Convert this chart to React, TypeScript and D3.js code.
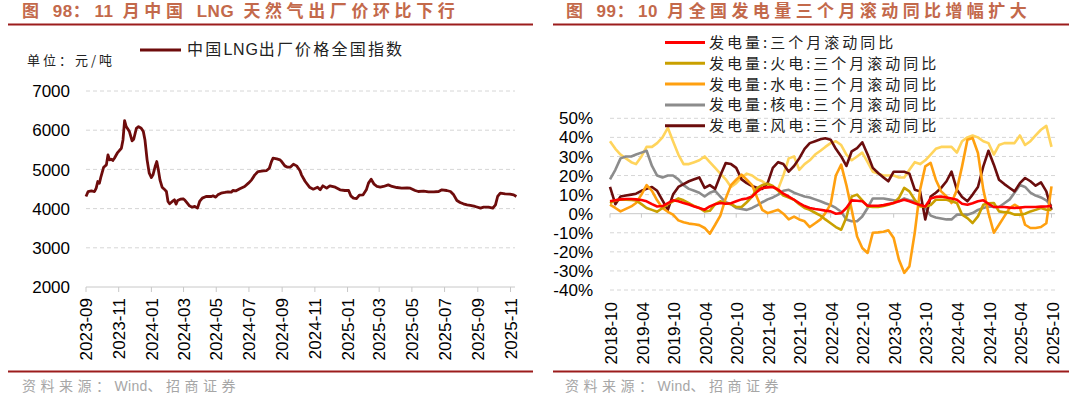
import { useEffect, useRef } from 'react';
import * as d3 from 'd3';

const width = 1080;
const height = 398;

// 图98: LNG ex-factory price index (元/吨)
const lngDates = [
  '2023-09-01', '2023-09-05', '2023-09-11', '2023-09-17', '2023-09-20', '2023-09-23', '2023-09-26', '2023-09-29',
  '2023-10-04', '2023-10-09', '2023-10-12', '2023-10-15', '2023-10-18', '2023-10-21', '2023-10-24', '2023-10-30',
  '2023-11-06', '2023-11-09', '2023-11-12', '2023-11-15', '2023-11-21', '2023-11-26', '2023-11-29', '2023-12-04',
  '2023-12-08', '2023-12-13', '2023-12-17', '2023-12-20', '2023-12-24', '2023-12-28', '2024-01-01', '2024-01-04',
  '2024-01-08', '2024-01-11', '2024-01-14', '2024-01-17', '2024-01-21', '2024-01-25', '2024-01-29', '2024-02-01',
  '2024-02-04', '2024-02-09', '2024-02-13', '2024-02-16', '2024-02-19', '2024-02-24', '2024-02-29', '2024-03-03',
  '2024-03-08', '2024-03-12', '2024-03-17', '2024-03-22', '2024-03-27', '2024-03-31', '2024-04-05', '2024-04-12',
  '2024-04-22', '2024-04-25', '2024-04-30', '2024-05-04', '2024-05-10', '2024-05-17', '2024-05-23', '2024-05-29',
  '2024-06-01', '2024-06-07', '2024-06-14', '2024-06-23', '2024-06-30', '2024-07-06', '2024-07-12', '2024-07-18',
  '2024-07-28', '2024-08-03', '2024-08-08', '2024-08-12', '2024-08-15', '2024-08-22', '2024-08-28', '2024-08-31',
  '2024-09-06', '2024-09-11', '2024-09-16', '2024-09-22', '2024-09-28', '2024-10-04', '2024-10-07', '2024-10-14',
  '2024-10-22', '2024-10-29', '2024-11-06', '2024-11-11', '2024-11-16', '2024-11-23', '2024-11-29', '2024-12-09',
  '2024-12-18', '2024-12-27', '2025-01-03', '2025-01-07', '2025-01-12', '2025-01-18', '2025-01-23', '2025-01-30',
  '2025-02-05', '2025-02-09', '2025-02-14', '2025-02-19', '2025-02-25', '2025-03-03', '2025-03-09', '2025-03-18',
  '2025-03-25', '2025-04-03', '2025-04-12', '2025-04-22', '2025-04-28', '2025-05-07', '2025-05-13', '2025-05-23',
  '2025-06-01', '2025-06-11', '2025-06-20', '2025-06-26', '2025-07-05', '2025-07-12', '2025-07-18', '2025-07-24',
  '2025-07-30', '2025-08-05', '2025-08-12', '2025-08-18', '2025-08-27', '2025-09-06', '2025-09-12', '2025-09-21',
  '2025-09-29', '2025-10-04', '2025-10-08', '2025-10-13', '2025-10-22', '2025-10-31', '2025-11-07', '2025-11-12',
];
const lngValues = [
  4309, 4436, 4453, 4436, 4521, 4691, 4649, 4818,
  5056, 5115, 5370, 5243, 5260, 5226, 5285, 5430,
  5540, 5752, 6245, 6092, 5964, 5727, 5770, 6049,
  6092, 6049, 5964, 5752, 5243, 4903, 4793, 4860,
  5073, 5200, 4988, 4733, 4547, 4496, 4436, 4182,
  4122, 4182, 4224, 4114, 4207, 4241, 4250, 4224,
  4139, 4071, 4037, 4054, 4012, 4182, 4267, 4309,
  4309, 4326, 4292, 4351, 4394, 4411, 4428, 4419,
  4462, 4453, 4504, 4564, 4649, 4733, 4861, 4946,
  4963, 4971, 5030, 5200, 5285, 5268, 5243, 5200,
  5090, 5056, 5056, 5132, 5090, 4971, 4861, 4691,
  4547, 4496, 4547, 4479, 4581, 4521, 4581, 4547,
  4479, 4462, 4462, 4326, 4267, 4258, 4343, 4351,
  4479, 4649, 4750, 4632, 4564, 4547, 4564, 4606,
  4564, 4538, 4521, 4530, 4521, 4462, 4436, 4445,
  4428, 4428, 4436, 4479, 4462, 4436, 4351, 4207,
  4156, 4122, 4097, 4080, 4054, 4012, 4037, 4037,
  4012, 4097, 4309, 4394, 4377, 4368, 4351, 4309,
];
const lngTicks = [
  '2023-09', '2023-11', '2024-01', '2024-03', '2024-05', '2024-07', '2024-09',
  '2024-11', '2025-01', '2025-03', '2025-05', '2025-07', '2025-09', '2025-11',
];
const lngYTicks = [2000, 3000, 4000, 5000, 6000, 7000];

// 图99: 3-month rolling YoY of power generation, monthly 2018-10 .. 2025-10 (%)
const powerStart = '2018-10';
const powerEnd = '2025-10';
const totalYoY = [
  6.5, 7, 7.5, 7.7, 7.7, 7.5, 7.2, 6.5, 5, 3.8, 4, 5.5, 7, 6.5, 5.6, 4.8, 3.8, 3, 2.1, 3.8,
  5, 5.6, 5.2, 5.5, 6.5, 7.5, 8, 9, 11.7, 13.5, 13.8, 14, 12.6, 10.5, 9, 7.3, 5.5, 4, 3, 2.5,
  2.1, 1.6, 1.2, 0, 0.3, 3, 7, 6.8, 6.5, 4.2, 4.2, 4.2, 4.5, 5, 5.6, 6.5, 7.3, 6.5, 5.5, 4.5,
  3.8, 8, 8.8, 9, 8.5, 8, 7.3, 5.2, 4.7, 5.5, 6.5, 7, 5.2, 3.5, 3.5, 3.5, 3.2, 3, 3.2, 3.5,
  3.5, 3.5, 3.7, 3.8, 4.2,
];
const thermalYoY = [
  5.5, 7, 7.3, 7.3, 7.2, 7, 5, 3, 2, 1, 3, 5, 6.5, 8, 7, 5.5, 4, 3, 1.2, 1.5,
  5, 6.5, 5.5, 5, 3.5, 3.5, 6, 9, 13.5, 15, 15.7, 14.5, 12, 9.5, 8.5, 7.3, 5, 3, 2, 0.5,
  -1, -3, -5, -7, -8.4, -2, 9, 10, 7, 3.8, 3.5, 3.5, 4, 4.7, 5.6, 8.2, 13.5, 11.7, 7.3, 3.8,
  3.8, 4.5, 7.3, 7.3, 7.3, 6.5, 5.6, -0.5, -2.3, -4.9, -1.4, 4.7, 5.5, 5.6, 1.2, 0.8, 0.5, -0.5, -0.5, 0,
  1.2, 2, 3, 2.1, 2,
];
const hydroYoY = [
  4.7, 3, 1.2, 2.5, 3.8, 5.6, 10, 15, 12, 7, 3, 1, -0.5, -3.5, -4.5, -5.2, -5.5, -6, -7.5, -10.5,
  -5.8, -1, 8, 15, 17.8, 20.5, 17.8, 15, 8, 2, 0.3, 1.2, 2, 0, -3, -1.5, -3, -4, -7, -5,
  -3, 0.3, 5, 20, 25.7, 15, 2, -12, -18, -20.6, -10, -9.8, -9.5, -8.7, -12.8, -24, -31, -27.6, -10, 12.6,
  24.8, 26.6, 17.8, 11.7, 9, 5.6, 12.6, 24.8, 38.8, 39.7, 31.8, 12.6, 0.3, -10, -5.8, -1.4, 3, 4.7, 3, -5.8,
  -7.5, -7.5, -7, -5, 14.3,
];
const nuclearYoY = [
  18, 23, 29, 30, 30, 31, 32, 33, 25, 20, 19, 20, 20, 18, 15, 13, 12, 11, 9, 11,
  12, 9, 6, 5, 3, 2.5, 2, 3, 4.5, 6, 7.5, 8.5, 10, 12, 12.5, 11, 10, 9, 8.5, 7.5,
  6.5, 5.5, 4.5, 3, 1, -3, -4, -4, -1.5, 3, 8, 8, 8, 7.5, 7, 6.5, 8, 7, 6.5, 5,
  3, -1, -2, -2.5, -3, -3, -0.5, -0.5, -0.5, 0.3, 2, 3, 3.8, 3.5, 3.5, 5.5, 7.5, 11, 15, 14,
  11, 9.5, 8.5, 7, 4,
];
const windYoY = [
  14, 5, 9, 9.5, 10, 10.5, 12, 13, 14, 12, 7, 2, 10, 14, 15.5, 17, 18, 19, 13.5, 15,
  13, 20, 26.5, 26, 24, 18, 16, 14.5, 13.5, 13, 16, 24, 27, 26, 22, 25, 29, 34, 37, 38,
  39, 39.5, 38.8, 34, 30, 25, 32.7, 34.4, 37.4, 31, 24, 21.3, 19, 17, 22, 22, 22, 21, 12.6, 11.7,
  -3, 9, 11, 13.5, 17, 22, 12.6, 8.7, 6.5, 10, 14, 24.8, 33, 25.7, 17.8, 15.5, 13.5, 11.7, 16, 18.7,
  17, 14.7, 16.4, 11.7, 2,
];
const solarYoY = [
  38, 34, 31, 29, 27, 26, 30, 35, 35, 37, 40, 45, 38, 31, 26, 26, 27, 28, 30, 27,
  24, 21, 18, 14, 16, 19, 21, 20, 18, 17, 15, 14, 13, 20, 29, 30, 23, 26, 28, 31,
  33, 35, 37, 38, 36, 31, 28, 30, 32, 27, 22, 21, 20, 20, 20, 19, 19, 23, 27, 26,
  28, 31, 34, 35, 35, 35, 32, 38, 40, 41, 40, 38, 37, 31, 36, 37, 37, 37, 41, 36,
  38, 41, 44, 46, 35,
];
const powerTicks = [
  '2018-10', '2019-04', '2019-10', '2020-04', '2020-10', '2021-04', '2021-10', '2022-04',
  '2022-10', '2023-04', '2023-10', '2024-04', '2024-10', '2025-04', '2025-10',
];
const pctTicks = [50, 40, 30, 20, 10, 0, -10, -20, -30, -40];

const seriesNames = [
  '发电量:三个月滚动同比',
  '发电量:火电:三个月滚动同比',
  '发电量:水电:三个月滚动同比',
  '发电量:核电:三个月滚动同比',
  '发电量:风电:三个月滚动同比',
];

const latin = '"Liberation Sans", Arial, sans-serif';
const cjk = '"Noto Sans CJK SC", sans-serif';
const mixed = '"Liberation Sans", "Noto Sans CJK SC", sans-serif';
const titleColor = '#c3694b';
const ruleColor = '#9c1c1c';
const gridColor = '#d6d6d6';
const axisColor = '#c8c8c8';

const cjkRun = /[\u3000-\u9fff\uff00-\uffef]+|[^\u3000-\u9fff\uff00-\uffef]+/g;
const isCjk = (s: string) => /[\u3000-\u9fff\uff00-\uffef]/.test(s);

// wide spacing between CJK glyphs, tight spacing inside latin words
const addRuns = (text: any, str: string, cjkLs: number, latinLs: number, space = '\u00a0') => {
  (str.match(cjkRun) || []).forEach(run => {
    text.append('tspan')
      .style('letter-spacing', (isCjk(run) ? cjkLs : latinLs) + 'px')
      .text(run.replace(/ /g, space));
  });
};

const App = () => {
  const svgRef = useRef<SVGSVGElement | null>(null);

  useEffect(() => {
    const svg = d3.select(svgRef.current);
    svg.selectAll('*').remove();

    const parseDay = d3.timeParse('%Y-%m-%d');
    const parseMonth = d3.timeParse('%Y-%m');

    // ---------- panel frame: titles, rules, sources ----------
    const frames = [
      { title: '图 98：11 月中国 LNG 天然气出厂价环比下行', tx: 22, ls: 4.6, x0: 8, x1: 533, sx: 22 },
      { title: '图 99：10 月全国发电量三个月滚动同比增幅扩大', tx: 566, ls: 4.4, x0: 553, x1: 1069, sx: 565 },
    ];
    frames.forEach(f => {
      const t = svg.append('text')
        .attr('x', f.tx)
        .attr('y', 16.5)
        .attr('fill', titleColor)
        .style('font-family', mixed)
        .style('font-weight', 'bold')
        .style('font-size', '17px');
      addRuns(t, f.title, f.ls, 0.6, '\u2002');
      svg.append('line')
        .attr('x1', f.x0).attr('x2', f.x1)
        .attr('y1', 24.5).attr('y2', 24.5)
        .attr('stroke', ruleColor).attr('stroke-width', 2);
      svg.append('line')
        .attr('x1', f.x0).attr('x2', f.x1)
        .attr('y1', 371.5).attr('y2', 371.5)
        .attr('stroke', ruleColor).attr('stroke-width', 2);
      const s = svg.append('text')
        .attr('x', f.sx)
        .attr('y', 386)
        .attr('dy', '0.35em')
        .attr('fill', '#a6a6a6')
        .style('font-family', mixed)
        .style('font-size', '14px');
      addRuns(s, '资料来源：Wind、招商证券', 4.5, 0.3);
    });

    // ---------- left: LNG ----------
    const lngData = lngDates.map((d, i) => ({ date: parseDay(d) as Date, value: lngValues[i] }));
    const xL = d3.scaleTime()
      .domain([parseMonth('2023-09') as Date, parseMonth('2025-11') as Date])
      .range([86, 510.5]);
    const yL = d3.scaleLinear().domain([2000, 7000]).range([287, 91]);
    const gL = svg.append('g');

    gL.selectAll('line.grid')
      .data(lngYTicks.filter(v => v !== 2000))
      .join('line')
      .attr('class', 'grid')
      .attr('x1', 86).attr('x2', 515)
      .attr('y1', d => yL(d)).attr('y2', d => yL(d))
      .attr('stroke', gridColor)
      .attr('stroke-dasharray', '4,3');

    gL.selectAll('text.ylab')
      .data(lngYTicks)
      .join('text')
      .attr('class', 'ylab')
      .attr('x', 70)
      .attr('y', d => yL(d))
      .attr('dy', '0.36em')
      .attr('text-anchor', 'end')
      .style('font-family', latin)
      .style('font-size', '17px')
      .text(d => d);

    gL.append('line')
      .attr('x1', 86).attr('x2', 515)
      .attr('y1', yL(2000)).attr('y2', yL(2000))
      .attr('stroke', axisColor);

    const lngTickDates = lngTicks.map(t => parseMonth(t) as Date);
    gL.selectAll('line.tick')
      .data(lngTickDates)
      .join('line')
      .attr('class', 'tick')
      .attr('x1', d => xL(d)).attr('x2', d => xL(d))
      .attr('y1', yL(2000)).attr('y2', yL(2000) + 5)
      .attr('stroke', axisColor);

    gL.selectAll('text.xlab')
      .data(lngTickDates)
      .join('text')
      .attr('class', 'xlab')
      .attr('transform', d => `translate(${xL(d)},298) rotate(-90)`)
      .attr('dy', '0.36em')
      .attr('text-anchor', 'end')
      .style('font-family', latin)
      .style('font-size', '17px')
      .text(d => d3.timeFormat('%Y-%m')(d));

    const lineL = d3.line<{ date: Date; value: number }>()
      .x(d => xL(d.date))
      .y(d => yL(d.value));
    gL.append('path')
      .datum(lngData)
      .attr('d', lineL)
      .attr('fill', 'none')
      .attr('stroke', '#6e0c0c')
      .attr('stroke-width', 2.8)
      .attr('stroke-linejoin', 'round');

    // legend + unit
    gL.append('line')
      .attr('x1', 140).attr('x2', 181)
      .attr('y1', 50).attr('y2', 50)
      .attr('stroke', '#6e0c0c').attr('stroke-width', 3);
    const lt = gL.append('text')
      .attr('x', 187).attr('y', 49.5).attr('dy', '0.36em')
      .style('font-family', mixed)
      .style('font-size', '16px')
      .attr('fill', '#222');
    addRuns(lt, '中国LNG出厂价格全国指数', 2.2, 0.8);
    gL.append('text')
      .attr('x', 27).attr('y', 60).attr('dy', '0.36em')
      .style('font-family', cjk)
      .style('font-size', '13px')
      .style('letter-spacing', '3px')
      .attr('fill', '#222')
      .text('单位：元/吨');

    // ---------- right: power generation ----------
    const months = d3.timeMonth.range(
      parseMonth(powerStart) as Date,
      d3.timeMonth.offset(parseMonth(powerEnd) as Date, 1),
    );
    const xR = d3.scaleTime()
      .domain([parseMonth(powerStart) as Date, parseMonth(powerEnd) as Date])
      .range([610, 1051.5]);
    const yR = d3.scaleLinear().domain([-40, 50]).range([290, 118.3]);
    const gR = svg.append('g');

    gR.selectAll('line.grid')
      .data(pctTicks.filter(v => v !== 0))
      .join('line')
      .attr('class', 'grid')
      .attr('x1', 610).attr('x2', 1055)
      .attr('y1', d => yR(d)).attr('y2', d => yR(d))
      .attr('stroke', gridColor)
      .attr('stroke-dasharray', '4,3');

    gR.selectAll('text.ylab')
      .data(pctTicks)
      .join('text')
      .attr('class', 'ylab')
      .attr('x', 593)
      .attr('y', d => yR(d))
      .attr('dy', '0.36em')
      .attr('text-anchor', 'end')
      .style('font-family', latin)
      .style('font-size', '17px')
      .text(d => d + '%');

    gR.append('line')
      .attr('x1', 610).attr('x2', 1055)
      .attr('y1', yR(0)).attr('y2', yR(0))
      .attr('stroke', axisColor);

    const powerTickDates = powerTicks.map(t => parseMonth(t) as Date);
    gR.selectAll('line.tick')
      .data(powerTickDates)
      .join('line')
      .attr('class', 'tick')
      .attr('x1', d => xR(d)).attr('x2', d => xR(d))
      .attr('y1', yR(0)).attr('y2', yR(0) + 4)
      .attr('stroke', axisColor);

    gR.selectAll('text.xlab')
      .data(powerTickDates)
      .join('text')
      .attr('class', 'xlab')
      .attr('transform', d => `translate(${xR(d) + 1},302) rotate(-90)`)
      .attr('dy', '0.36em')
      .attr('text-anchor', 'end')
      .style('font-family', latin)
      .style('font-size', '17px')
      .text(d => d3.timeFormat('%Y-%m')(d));

    const series = [
      { values: solarYoY, color: '#ffd45c' },
      { values: nuclearYoY, color: '#8c8c8c' },
      { values: windYoY, color: '#6b0d0d' },
      { values: hydroYoY, color: '#ffa010' },
      { values: thermalYoY, color: '#c9a000' },
      { values: totalYoY, color: '#ff0000' },
    ];
    const lineR = d3.line<number>()
      .x((_, i) => xR(months[i]))
      .y(d => yR(d));
    gR.selectAll('path.series')
      .data(series)
      .join('path')
      .attr('class', 'series')
      .attr('d', d => lineR(d.values))
      .attr('fill', 'none')
      .attr('stroke', d => d.color)
      .attr('stroke-width', 2.6)
      .attr('stroke-linejoin', 'round');

    const legendColors = ['#ff0000', '#c9a000', '#ffa010', '#8c8c8c', '#6b0d0d'];
    const legend = gR.selectAll('g.legend')
      .data(seriesNames)
      .join('g')
      .attr('class', 'legend')
      .attr('transform', (_, i) => `translate(665,${42.5 + i * 20.8})`);
    legend.append('line')
      .attr('x1', 0).attr('x2', 40)
      .attr('stroke', (_, i) => legendColors[i])
      .attr('stroke-width', 3);
    legend.append('text')
      .attr('x', 44)
      .attr('dy', '0.36em')
      .style('font-family', cjk)
      .style('font-size', '15px')
      .style('letter-spacing', '3px')
      .attr('fill', '#222')
      .text(d => d);
  }, []);

  return (
    <div style={{ position: 'absolute', left: 0, top: 0 }}>
      <svg ref={svgRef} width={width} height={height} style={{ display: 'block', background: '#fff' }}></svg>
    </div>
  );
};

export default App;
